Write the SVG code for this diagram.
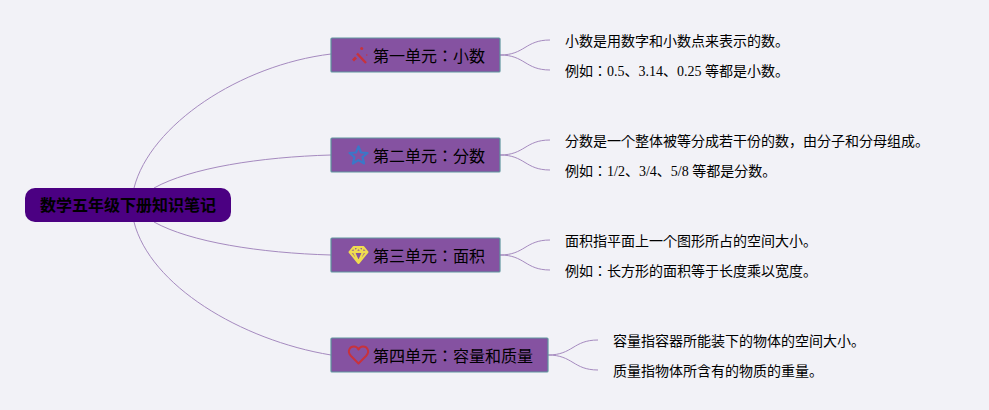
<svg xmlns="http://www.w3.org/2000/svg" width="989" height="410" viewBox="0 0 989 410">
<style>
text{font-family:"Liberation Serif","Noto Sans CJK JP",serif;fill:#000}
.leaf{font-size:14px}
.unit{font-size:16px}
.box{fill:#8552a1;stroke:#5f959e;stroke-width:1.200}
.c path{fill:none;stroke:#a58abf;stroke-width:1}
.root{fill:#4b0082}
.rt{font-size:16px;font-weight:bold}
</style>
<rect width="989" height="410" fill="#f2f2f7"/>
<g class="c" id="connectors">
<path d="M134 188C150 125 240 65 331 54"/>
<path d="M154 188C190 168 260 157 331 155"/>
<path d="M154 222C190 242 260 253 331 255"/>
<path d="M134 222C150 285 240 340 331 355"/>
<path d="M500 55C525 55 525 40 550 40"/>
<path d="M500 55C525 55 525 70 550 70"/>
<path d="M500 155C525 155 525 140 550 140"/>
<path d="M500 155C525 155 525 170 550 170"/>
<path d="M500 255C525 255 525 240 550 240"/>
<path d="M500 255C525 255 525 270 550 270"/>
<path d="M548 355C573 355 573 340 598 340"/>
<path d="M548 355C573 355 573 370 598 370"/>
</g>
<g id="root"><rect class="root" x="25" y="188" width="206" height="34" rx="10"/><text class="rt" x="40" y="211">数学五年级下册知识笔记</text></g>
<g id="unit1"><rect class="box" x="331" y="38" width="169" height="34" rx="1"/>
<path d="M357 53.500L366 63" fill="none" stroke="#c8323c" stroke-width="2.400"/><path d="M353 60.500L356 57.500" fill="none" stroke="#c8323c" stroke-width="2.800"/>
<circle cx="361.700" cy="48.500" r="1.500" fill="#c8323c"/><circle cx="366.800" cy="55" r=".7" fill="#c8323c"/>
<text class="unit" x="373" y="62">第一单元：小数</text></g>
<g id="unit2"><rect class="box" x="331" y="138" width="169" height="34" rx="1"/>
<path d="M358.500 146.500l2.500 6 6.500.5-5 4.200 1.600 6.300-5.600-3.400-5.600 3.400 1.600-6.300-5-4.200 6.500-.5z" fill="none" stroke="#3a78c8" stroke-width="2.200" stroke-linejoin="round"/>
<text class="unit" x="373" y="162">第二单元：分数</text></g>
<g id="unit3"><rect class="box" x="331" y="238" width="169" height="34" rx="1"/>
<path d="M353.500 247h10l4 5-9 11-9-11zM349.500 252h18M354 252l4.500 10 4.500-10M353.500 247l2 5 3-5 3 5 2-5" fill="#f0d848" fill-opacity=".35" stroke="#f0dc50" stroke-width="2" stroke-linejoin="round"/>
<text class="unit" x="373" y="262">第三单元：面积</text></g>
<g id="unit4"><rect class="box" x="331" y="338" width="217" height="34" rx="1"/>
<path d="M358.500 363.500l-7.500-7.500c-4.500-5-1-9.500 3-9.500 2 0 3.500 1 4.500 3 1-2 2.500-3 4.500-3 4 0 7.500 4.500 3 9.500z" fill="none" stroke="#c8323c" stroke-width="2" stroke-linejoin="round"/>
<text class="unit" x="373" y="362">第四单元：容量和质量</text></g>
<g id="leaf1a"><text class="leaf" x="565" y="46">小数是用数字和小数点来表示的数。</text></g>
<g id="leaf1b"><text class="leaf" x="565" y="76">例如：0.5、3.14、0.25 等都是小数。</text></g>
<g id="leaf2a"><text class="leaf" x="565" y="146">分数是一个整体被等分成若干份的数，由分子和分母组成。</text></g>
<g id="leaf2b"><text class="leaf" x="565" y="176">例如：1/2、3/4、5/8 等都是分数。</text></g>
<g id="leaf3a"><text class="leaf" x="565" y="246">面积指平面上一个图形所占的空间大小。</text></g>
<g id="leaf3b"><text class="leaf" x="565" y="276">例如：长方形的面积等于长度乘以宽度。</text></g>
<g id="leaf4a"><text class="leaf" x="613" y="346">容量指容器所能装下的物体的空间大小。</text></g>
<g id="leaf4b"><text class="leaf" x="613" y="376">质量指物体所含有的物质的重量。</text></g>
</svg>
